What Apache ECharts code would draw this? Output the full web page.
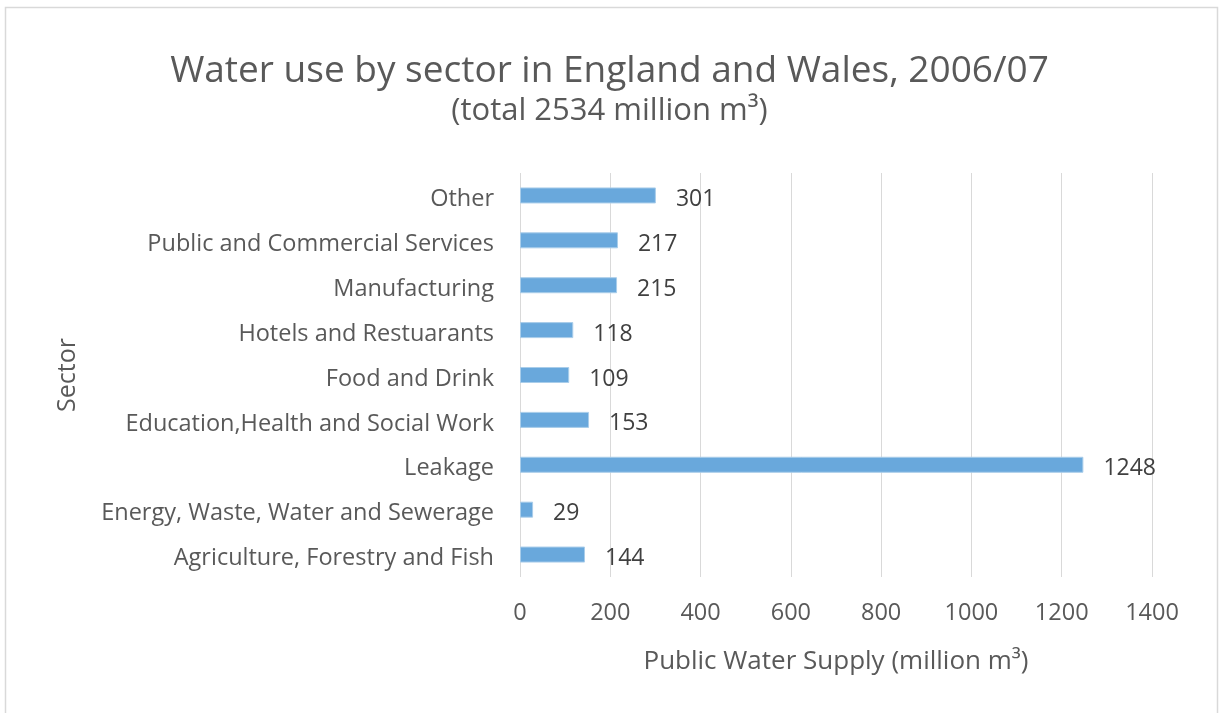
<!DOCTYPE html>
<html>
<head>
<meta charset="utf-8">
<script src="https://cdn.jsdelivr.net/npm/echarts@6/dist/echarts.min.js"></script>
<style>
html,body{margin:0;padding:0;background:#fff;}
#c{width:1219px;height:713px;}
</style>
</head>
<body>
<div id="c"></div>
<script>
var categories = ["Agriculture, Forestry and Fish","Energy, Waste, Water and Sewerage","Leakage","Education,Health and Social Work","Food and Drink","Hotels and Restuarants","Manufacturing","Public and Commercial Services","Other"];
var values = [144, 29, 1248, 153, 109, 118, 215, 217, 301];
var xTicks = [0, 200, 400, 600, 800, 1000, 1200, 1400];

var FONT = '"Open Sans", sans-serif';
var TXT = '#595959';
var chart = echarts.init(document.getElementById('c'), null, {renderer: 'canvas'});
chart.setOption({
  animation: false,
  backgroundColor: '#fff',
  graphic: [{
    type: 'rect',
    shape: {x: 5.5, y: 7.5, width: 1212, height: 720},
    style: {fill: 'none', stroke: '#d9d9d9', lineWidth: 1.5},
    silent: true
  }],
  title: {
    text: 'Water use by sector in England and Wales, 2006/07',
    subtext: '(total 2534 million m\u00b3)',
    left: 'center',
    top: 48,
    itemGap: 6,
    textStyle: {fontFamily: FONT, fontSize: 37, fontWeight: 'normal', color: TXT},
    subtextStyle: {fontFamily: FONT, fontSize: 31, color: TXT}
  },
  grid: {left: 520, right: 67, top: 173, bottom: 136, containLabel: false},
  xAxis: {
    type: 'value',
    min: xTicks[0],
    max: xTicks[xTicks.length - 1],
    interval: 200,
    name: 'Public Water Supply (million m\u00b3)',
    nameLocation: 'middle',
    nameGap: 72,
    nameTextStyle: {fontFamily: FONT, fontSize: 26, color: TXT},
    axisLine: {show: false},
    axisTick: {show: false},
    axisLabel: {fontFamily: FONT, fontSize: 23.5, color: TXT, margin: 24, formatter: function (v) { return String(v); }},
    splitLine: {lineStyle: {color: '#d9d9d9', width: 1}}
  },
  yAxis: {
    type: 'category',
    data: categories,
    name: 'Sector',
    nameLocation: 'middle',
    nameRotate: 90,
    nameGap: 440,
    nameTextStyle: {fontFamily: FONT, fontSize: 25, color: TXT},
    axisLine: {show: false},
    axisTick: {show: false},
    axisLabel: {
      fontFamily: FONT, fontSize: 23.5, color: TXT, margin: 26,
      formatter: function (v) { return '{a|' + v + '}'; },
      rich: {a: {fontFamily: FONT, fontSize: 23.5, color: TXT, padding: [8, 0, 0, 0]}}
    },
    splitLine: {show: false}
  },
  series: [{
    type: 'bar',
    data: values,
    barWidth: 16,
    itemStyle: {color: '#69a8dc', borderColor: '#a9cdea', borderWidth: 1},
    label: {
      show: true,
      position: 'right',
      distance: 20,
      offset: [0, 4],
      fontFamily: FONT,
      fontSize: 23,
      color: '#404040'
    }
  }]
});
</script>
</body>
</html>
